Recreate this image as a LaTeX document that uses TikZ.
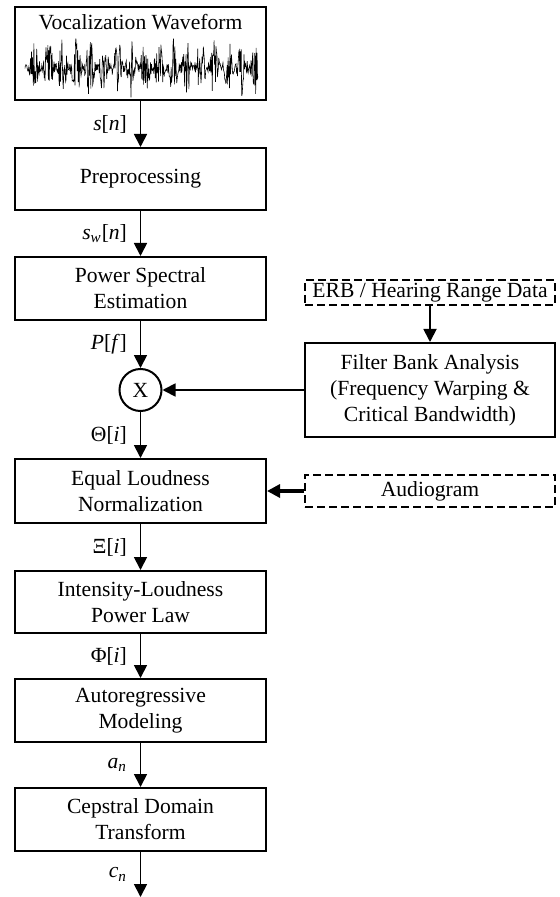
\documentclass[tikz,border=0pt]{standalone}
\usepackage{fontspec}
\setmainfont{Liberation Serif}
\usetikzlibrary{arrows.meta}

\tikzset{
  block/.style={draw, line width=1pt, minimum width=125.5pt, align=center, inner sep=0pt},
  datasrc/.style={draw, dash pattern=on 4pt off 2pt, line width=0.7pt, minimum width=125pt, align=center, inner sep=0pt},
  flow/.style={line width=0.9pt, -{Triangle[length=6.5pt,width=6.5pt]}},
  sig/.style={midway, left=3pt}
}

\begin{document}
\begin{tikzpicture}[x=0.5pt, y=-0.5pt, font=\fontsize{10.8}{13}\selectfont]
  \useasboundingbox (0,0) rectangle (560,897);
  % Input waveform
  \node[block, minimum height=46.5pt] (wave) at (140.5,53.5) {};
  \node at (140.5,22) {Vocalization Waveform};
  \pgfmathsetseed{11}
  \draw[line width=0.3pt] plot[domain=25:258, samples=500]
    (\x, {68 + (4 + 26*(sin(13*\x))^2)*rand});
  % Main chain
  \node[block, minimum height=31pt] (prep) at (140.5,179) {Preprocessing};
  \node[block, minimum height=31.5pt] (pse) at (140.5,288.5) {Power Spectral\\Estimation};
  \node[draw, circle, line width=1pt, minimum size=21pt, inner sep=0pt] (mult) at (140.5,390) {X};
  \node[block, minimum height=32pt] (eqn) at (140.5,491) {Equal Loudness\\Normalization};
  \node[block, minimum height=31pt] (ilp) at (140.5,602) {Intensity-Loudness\\Power Law};
  \node[block, minimum height=31.5pt] (arm) at (140.5,710.5) {Autoregressive\\Modeling};
  \node[block, minimum height=31.5pt] (cep) at (140.5,819.5) {Cepstral Domain\\Transform};
  \coordinate (out) at (140.5,897);
  % Side inputs
  \node[datasrc, minimum height=12.5pt] (erb) at (430,292.5) {ERB / Hearing Range Data};
  \node[block, minimum width=125pt, minimum height=47pt] (fba) at (430,390)
    {Filter Bank Analysis\\(Frequency Warping \&\\Critical Bandwidth)};
  \node[datasrc, minimum height=16pt] (aud) at (430,491) {Audiogram};
  % Signals
  \draw[flow] (wave) -- node[sig] {\textit{s}[\textit{n}]} (prep);
  \draw[flow] (prep) -- node[sig] {\textit{s}\textsubscript{\textit{w}}[\textit{n}]} (pse);
  \draw[flow] (pse) -- node[sig] {\textit{P}[\textit{f}]} (mult);
  \draw[flow] (mult) -- node[sig] {Θ[\textit{i}]} (eqn);
  \draw[flow] (eqn) -- node[sig] {Ξ[\textit{i}]} (ilp);
  \draw[flow] (ilp) -- node[sig] {Φ[\textit{i}]} (arm);
  \draw[flow] (arm) -- node[sig] {\textit{a}\textsubscript{\textit{n}}} (cep);
  \draw[flow] (cep) -- node[sig] {\textit{c}\textsubscript{\textit{n}}} (out);
  \draw[flow] (erb) -- (fba);
  \draw[flow] (fba) -- (mult);
  \draw[flow, line width=1.6pt] (aud) -- (eqn);
\end{tikzpicture}
\end{document}
